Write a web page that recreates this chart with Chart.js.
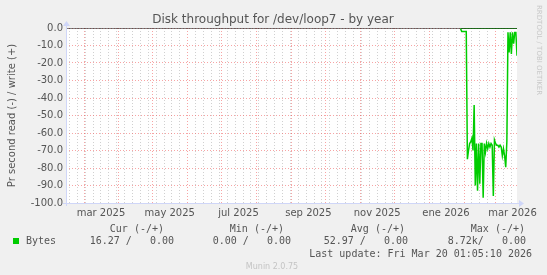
<!DOCTYPE html>
<html>
<head>
<meta charset="utf-8">
<title>Disk throughput for /dev/loop7 - by year</title>
<script src="https://cdn.jsdelivr.net/npm/chart.js@4.4.1/dist/chart.umd.min.js"></script>
<style>
  html, body { margin: 0; padding: 0; background: #f0f0f0; }
  #wrap { width: 547px; height: 275px; }
</style>
</head>
<body>
<div id="wrap"><canvas id="myChart" width="547" height="275"></canvas></div>
<script>
// graph window (munin "by year" = 400 days up to last update)
var rangeStart = "2025-02-13";
var rangeEnd = "2026-03-20";

// one sample per day, first sample on this date
var firstSample = "2026-01-29";

// bytes read per second (drawn negative)
var readValues = [
  -0.5, -2, -2, -2, -2, -2, -75, -70, -66, -65,
  -63, -70, -44, -90, -66, -93, -66, -89, -66, -66,
  -97, -66, -71, -66, -69, -66, -68, -66, -67, -96,
  -64, -66, -67, -67, -68, -67, -68, -73, -69, -73,
  -79.5, -65, -2.5, -14, -2.5, -14.8, -2.5, -9, -2.5, -2.5,
  -15.8
];

// bytes written per second
var writeValues = [
  0, 0, 0, 0, 0, 0, 0, 0, 0, 0,
  0, 0, 0, 0, 0, 0, 0, 0, 0, 0,
  0, 0, 0, 0, 0, 0, 0, 0, 0, 0,
  0, 0, 0, 0, 0, 0, 0, 0, 0, 0,
  0, 0, 0, 0, 0, 0, 0, 0, 0, 0,
  0
];

// x axis labels (placed mid month like rrdtool does)
var xLabels = ["mar 2025", "may 2025", "jul 2025", "sep 2025", "nov 2025", "ene 2026", "mar 2026"];
var xLabelDates = ["2025-03-16", "2025-05-16", "2025-07-16", "2025-09-16", "2025-11-16", "2026-01-16", "2026-03-16"];

// y axis labels
var yTicks = [0, -10, -20, -30, -40, -50, -60, -70, -80, -90, -100];

// legend numbers
var legendHead = ["Cur (-/+)", "Min (-/+)", "Avg (-/+)", "Max (-/+)"];
var legendVals = ["16.27 /   0.00", "0.00 /   0.00", "52.97 /   0.00", "8.72k/   0.00"];
var lastUpdate = "Last update: Fri Mar 20 01:05:10 2026";

// ---------------------------------------------------------------

function dayNum(iso) {
  return (Date.parse(iso + "T00:00:00Z") - Date.parse("2026-01-01T00:00:00Z")) / 86400000;
}

var xMin = dayNum(rangeStart);
var xMax = dayNum(rangeEnd);
var first = dayNum(firstSample);

var readPoints = [];
var writePoints = [];
for (var i = 0; i < readValues.length; i++) {
  readPoints.push({ x: first + i, y: readValues[i] });
  writePoints.push({ x: first + i, y: writeValues[i] });
}

// grid: red at month starts, grey weekly (sundays), label ticks slightly offset
var LABEL_SHIFT = 0.001;
var monthDays = {};
var labelTicks = [];
var xTickList = [];
for (var y = 2025; y <= 2026; y++) {
  for (var m = 1; m <= 12; m++) {
    var d = dayNum(y + "-" + (m < 10 ? "0" + m : m) + "-01");
    if (d > xMin && d < xMax) { monthDays[d] = true; xTickList.push(d); }
  }
}
for (var d = Math.ceil(xMin); d < xMax; d++) {
  if ((((d - 3) % 7) + 7) % 7 === 0 && !monthDays[d]) xTickList.push(d);
}
for (var k = 0; k < xLabelDates.length; k++) {
  var lv = dayNum(xLabelDates[k]) + LABEL_SHIFT;
  labelTicks.push({ value: lv, text: xLabels[k] });
  xTickList.push(lv);
}
xTickList.sort(function (a, b) { return a - b; });

function labelFor(value) {
  for (var n = 0; n < labelTicks.length; n++) {
    if (Math.abs(labelTicks[n].value - value) < 0.0002) return labelTicks[n].text;
  }
  return null;
}

var majorGrid = "rgba(240, 90, 90, 0.55)";
var minorGrid = "rgba(170, 170, 170, 0.55)";
var axisColor = "#cfd6f8";
var fontColor = "#555555";

var munin = {
  id: "munin",
  beforeDraw: function (chart) {
    var c = chart.ctx, a = chart.chartArea;
    c.save();
    c.fillStyle = "#ffffff";
    c.fillRect(a.left, a.top, a.right - a.left, a.bottom - a.top);
    c.restore();
  },
  afterDraw: function (chart) {
    var c = chart.ctx, a = chart.chartArea;
    c.save();

    // axes with arrows
    c.strokeStyle = axisColor;
    c.fillStyle = axisColor;
    c.lineWidth = 1;
    c.beginPath();
    c.moveTo(a.left - 3, a.bottom + 0.5);
    c.lineTo(a.right + 3, a.bottom + 0.5);
    c.moveTo(a.left + 0.5, a.bottom + 3);
    c.lineTo(a.left + 0.5, a.top - 3);
    c.stroke();
    c.beginPath();
    c.moveTo(a.right + 7, a.bottom + 0.5);
    c.lineTo(a.right + 2, a.bottom - 3);
    c.lineTo(a.right + 2, a.bottom + 4);
    c.closePath();
    c.fill();
    c.beginPath();
    c.moveTo(a.left + 0.5, a.top - 7);
    c.lineTo(a.left - 3, a.top - 2);
    c.lineTo(a.left + 4, a.top - 2);
    c.closePath();
    c.fill();

    // title
    c.fillStyle = fontColor;
    c.font = "12px 'DejaVu Sans'";
    c.textAlign = "center";
    c.textBaseline = "middle";
    c.fillText("Disk throughput for /dev/loop7 - by year", 273, 20);

    // vertical axis title
    c.save();
    c.translate(12, (a.top + a.bottom) / 2);
    c.rotate(-Math.PI / 2);
    c.font = "10px 'DejaVu Sans'";
    c.fillText("Pr second read (-) / write (+)", 0, 0);
    c.restore();

    // rrdtool watermark
    c.save();
    c.translate(539, 5);
    c.rotate(Math.PI / 2);
    c.fillStyle = "#c8c8c8";
    c.font = "7px 'DejaVu Sans'";
    c.textAlign = "left";
    c.fillText("RRDTOOL / TOBI OETIKER", 0, 0);
    c.restore();

    // legend
    c.font = "10px 'DejaVu Sans Mono'";
    c.fillStyle = fontColor;
    c.textAlign = "right";
    var headRight = [164, 284, 405, 525];
    var valRight = [174, 291, 408, 526];
    for (var j = 0; j < 4; j++) {
      c.fillText(legendHead[j], headRight[j], 229);
      c.fillText(legendVals[j], valRight[j], 241);
    }
    c.fillText(lastUpdate, 532, 254);
    c.textAlign = "left";
    c.fillText("Bytes", 26, 241);
    c.fillStyle = "#00cc00";
    c.fillRect(13, 238, 6, 6);

    c.fillStyle = "#c4c4c4";
    c.font = "8px 'DejaVu Sans'";
    c.textAlign = "center";
    c.fillText("Munin 2.0.75", 272, 267);
    c.restore();
  }
};

var ctx = document.getElementById("myChart").getContext("2d");
var myChart = new Chart(ctx, {
  type: "line",
  data: {
    datasets: [
      {
        label: "zero",
        data: [{ x: xMin, y: 0 }, { x: xMax, y: 0 }],
        borderColor: "#000000",
        borderWidth: 1,
        pointRadius: 0
      },
      {
        label: "Bytes read",
        data: readPoints,
        borderColor: "#00cc00",
        borderWidth: 1.5,
        pointRadius: 0,
        tension: 0
      },
      {
        label: "Bytes write",
        data: writePoints,
        borderColor: "#00cc00",
        borderWidth: 1.5,
        pointRadius: 0,
        tension: 0
      }
    ]
  },
  options: {
    responsive: false,
    animation: false,
    devicePixelRatio: 1,
    layout: { padding: { left: 0, top: 28, right: 30, bottom: 52 } },
    plugins: {
      legend: { display: false },
      tooltip: { enabled: false },
      title: { display: false }
    },
    scales: {
      x: {
        type: "linear",
        min: xMin,
        max: xMax,
        afterBuildTicks: function (scale) {
          scale.ticks = xTickList.map(function (v) { return { value: v }; });
        },
        afterFit: function (scale) { scale.height = 20; },
        ticks: {
          autoSkip: false,
          maxRotation: 0,
          padding: 4,
          color: fontColor,
          font: { family: "DejaVu Sans", size: 10 },
          callback: function (value) {
            var t = labelFor(value);
            return t === null ? "" : t;
          }
        },
        grid: {
          drawTicks: false,
          lineWidth: 1,
          color: function (c) {
            if (!c.tick) return minorGrid;
            var v = c.tick.value;
            if (labelFor(v) !== null) return "rgba(0,0,0,0)";
            if (monthDays[v]) return majorGrid;
            return minorGrid;
          }
        },
        border: { display: false, dash: [1, 2] }
      },
      y: {
        min: -100,
        max: 0,
        afterBuildTicks: function (scale) {
          var t = [];
          for (var v = -100; v <= 0; v += 5) t.push({ value: v });
          scale.ticks = t;
        },
        afterFit: function (scale) { scale.width = 66; },
        ticks: {
          padding: 3,
          color: fontColor,
          font: { family: "DejaVu Sans", size: 10 },
          callback: function (value) {
            return yTicks.indexOf(value) >= 0 ? value.toFixed(1) : "";
          }
        },
        grid: {
          drawTicks: false,
          lineWidth: 1,
          color: function (c) {
            if (!c.tick) return minorGrid;
            return yTicks.indexOf(c.tick.value) >= 0 ? majorGrid : minorGrid;
          }
        },
        border: { display: false, dash: [1, 2] }
      }
    }
  },
  plugins: [munin]
});
</script>
</body>
</html>
